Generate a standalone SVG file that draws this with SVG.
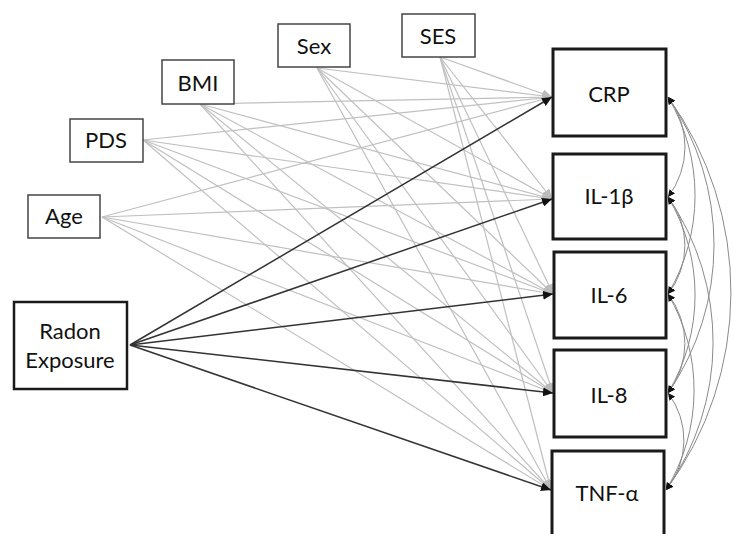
<svg xmlns="http://www.w3.org/2000/svg" width="733" height="534" viewBox="0 0 733 534">
<style>
.cov rect{fill:#fff;stroke:#444;stroke-width:1.5}
.out rect{fill:#fff;stroke:#1a1a1a;stroke-width:3}
.rad rect{fill:#fff;stroke:#1a1a1a;stroke-width:2.5}
text{font-family:Lato,"Open Sans","Liberation Sans",sans-serif;font-size:22px;fill:#111;text-anchor:middle}
.g{stroke:#c0c0c0;stroke-width:1.2;fill:none;marker-end:url(#ag)}
.k{stroke:#333;stroke-width:1.5;fill:none;marker-end:url(#ak)}
.c{stroke:#8a8a8a;stroke-width:1;fill:none;marker-start:url(#ac);marker-end:url(#ac)}
</style>
<defs>
<marker id="ag" markerUnits="userSpaceOnUse" markerWidth="11" markerHeight="9" refX="10" refY="4.5" orient="auto"><path d="M0,0 L10,4.5 L0,9 Z" fill="#bbb"/></marker>
<marker id="ak" markerUnits="userSpaceOnUse" markerWidth="11" markerHeight="9" refX="10" refY="4.5" orient="auto"><path d="M0,0 L10,4.5 L0,9 Z" fill="#111"/></marker>
<marker id="ac" markerUnits="userSpaceOnUse" markerWidth="8" markerHeight="7" refX="7" refY="3.5" orient="auto-start-reverse"><path d="M0,0 L7,3.5 L0,7 Z" fill="#111"/></marker>
</defs>
<g id="connectors">
<g id="covariate-paths">
<path class="g" d="M102,217 L552,97"/><path class="g" d="M102,217 L552,199"/><path class="g" d="M102,217 L553,294"/><path class="g" d="M102,217 L553,393"/><path class="g" d="M102,217 L551,490"/>
<path class="g" d="M143,140 L552,97"/><path class="g" d="M143,140 L552,199"/><path class="g" d="M143,140 L553,294"/><path class="g" d="M143,140 L553,393"/><path class="g" d="M143,140 L551,490"/>
<path class="g" d="M200,104 L552,97"/><path class="g" d="M200,104 L552,199"/><path class="g" d="M200,104 L553,294"/><path class="g" d="M200,104 L553,393"/><path class="g" d="M200,104 L551,490"/>
<path class="g" d="M317,68 L552,97"/><path class="g" d="M317,68 L552,199"/><path class="g" d="M317,68 L553,294"/><path class="g" d="M317,68 L553,393"/><path class="g" d="M317,68 L551,490"/>
<path class="g" d="M440,57 L552,97"/><path class="g" d="M440,57 L552,199"/><path class="g" d="M440,57 L553,294"/><path class="g" d="M440,57 L553,393"/><path class="g" d="M440,57 L551,490"/>
</g>
<g id="radon-paths">
<path class="k" d="M130,345 L552,97"/><path class="k" d="M130,345 L552,199"/><path class="k" d="M130,345 L553,294"/><path class="k" d="M130,345 L553,393"/><path class="k" d="M130,345 L551,490"/>
</g>
<g id="covariances">
<path class="c" d="M668,97 A82,82 0 0 1 668,197"/>
<path class="c" d="M668,197 A78,78 0 0 1 668,294"/>
<path class="c" d="M668,294 A81,81 0 0 1 668,393"/>
<path class="c" d="M668,393 A78,78 0 0 1 666,490"/>
<path class="c" d="M668,97 A193,193 0 0 1 668,294"/>
<path class="c" d="M668,197 A191,191 0 0 1 668,393"/>
<path class="c" d="M668,294 A191,191 0 0 1 666,490"/>
<path class="c" d="M668,97 A261,261 0 0 1 668,393"/>
<path class="c" d="M668,197 A256,256 0 0 1 666,490"/>
<path class="c" d="M668,97 A334,334 0 0 1 666,490"/>
</g>
</g>
<g id="age" class="cov"><rect x="28" y="195" width="72" height="43"/><text x="64" y="224">Age</text></g>
<g id="pds" class="cov"><rect x="70" y="119" width="73" height="43"/><text x="106" y="148">PDS</text></g>
<g id="bmi" class="cov"><rect x="162" y="60" width="72" height="44"/><text x="198" y="91">BMI</text></g>
<g id="sex" class="cov"><rect x="278" y="24" width="72" height="43"/><text x="314" y="54">Sex</text></g>
<g id="ses" class="cov"><rect x="402" y="14" width="73" height="43"/><text x="438" y="44">SES</text></g>
<g id="radon" class="rad"><rect x="14" y="302" width="113" height="87"/><text x="70" y="339">Radon</text><text x="70" y="368">Exposure</text></g>
<g id="crp" class="out"><rect x="553" y="49" width="113" height="87"/><text x="609" y="102">CRP</text></g>
<g id="il1b" class="out"><rect x="553" y="154" width="113" height="85"/><text x="609" y="204">IL-1β</text></g>
<g id="il6" class="out"><rect x="554" y="252" width="112" height="86"/><text x="609" y="303">IL-6</text></g>
<g id="il8" class="out"><rect x="554" y="350" width="112" height="87"/><text x="609" y="403">IL-8</text></g>
<g id="tnfa" class="out"><rect x="552" y="451" width="112" height="90"/><text x="607" y="501">TNF-α</text></g>
</svg>
